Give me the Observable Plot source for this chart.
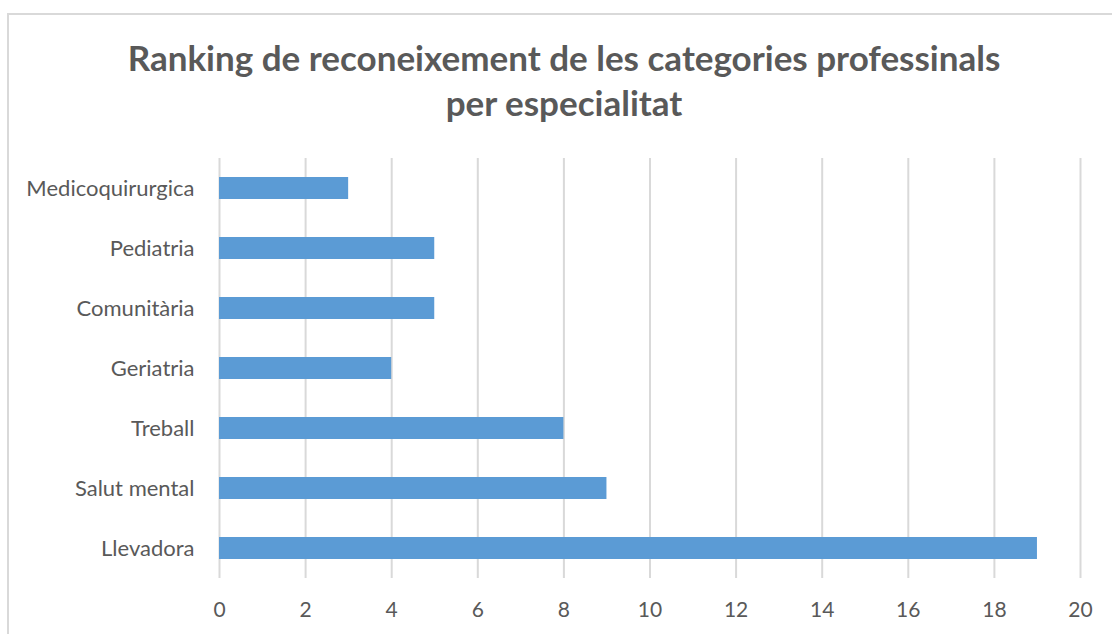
<!DOCTYPE html>
<html>
<head>
<meta charset="utf-8">
<script src="https://cdn.jsdelivr.net/npm/d3@7"></script>
<script src="https://cdn.jsdelivr.net/npm/@observablehq/plot@0.6"></script>
<style>
  html, body { margin: 0; padding: 0; background: #fff; overflow: hidden; }
  #wrap { position: relative; width: 1112px; height: 634px; overflow: hidden; font-family: Lato, "Open Sans", sans-serif; }
  #frame { position: absolute; left: 7px; top: 13px; width: 1200px; height: 700px; border: 2px solid #d9d9d9; box-sizing: border-box; }
  #title { position: absolute; left: 0; top: 35px; width: 1128px; text-align: center; font-weight: bold; font-size: 35px; line-height: 45px; color: #595959; }
  #chart { position: absolute; left: 0; top: 0; }
</style>
</head>
<body>
<div id="wrap">
  <div id="frame"></div>
  <div id="chart"></div>
  <div id="title">Ranking de reconeixement de les categories professinals<br>per especialitat</div>
</div>
<script>
const categories = ["Medicoquirurgica", "Pediatria", "Comunitària", "Geriatria", "Treball", "Salut mental", "Llevadora"];
const values = [3, 5, 5, 4, 8, 9, 19];
const xTicks = [0, 2, 4, 6, 8, 10, 12, 14, 16, 18, 20];

const data = categories.map((c, i) => ({category: c, value: values[i]}));

const chart = Plot.plot({
  width: 1112,
  height: 634,
  marginLeft: 219,
  marginRight: 32,
  marginTop: 158,
  marginBottom: 56,
  style: {fontFamily: "Lato, 'Open Sans', sans-serif", fontSize: "21px", color: "#595959", background: "transparent"},
  x: {domain: [0, 20], ticks: xTicks, label: null},
  y: {domain: categories, paddingInner: 0.63, paddingOuter: 0.315, label: null},
  marks: [
    Plot.gridX(xTicks, {stroke: "#d9d9d9", strokeWidth: 2, strokeOpacity: 1}),
    Plot.barX(data, {x: "value", y: "category", fill: "#5B9BD5"}),
    Plot.axisX({ticks: xTicks, tickSize: 0, tickPadding: 24, fill: "#595959", fontSize: 21, label: null}),
    Plot.axisY({tickSize: 0, tickPadding: 25, fill: "#595959", fontSize: 22, label: null})
  ]
});
document.getElementById("chart").appendChild(chart);
</script>
</body>
</html>
